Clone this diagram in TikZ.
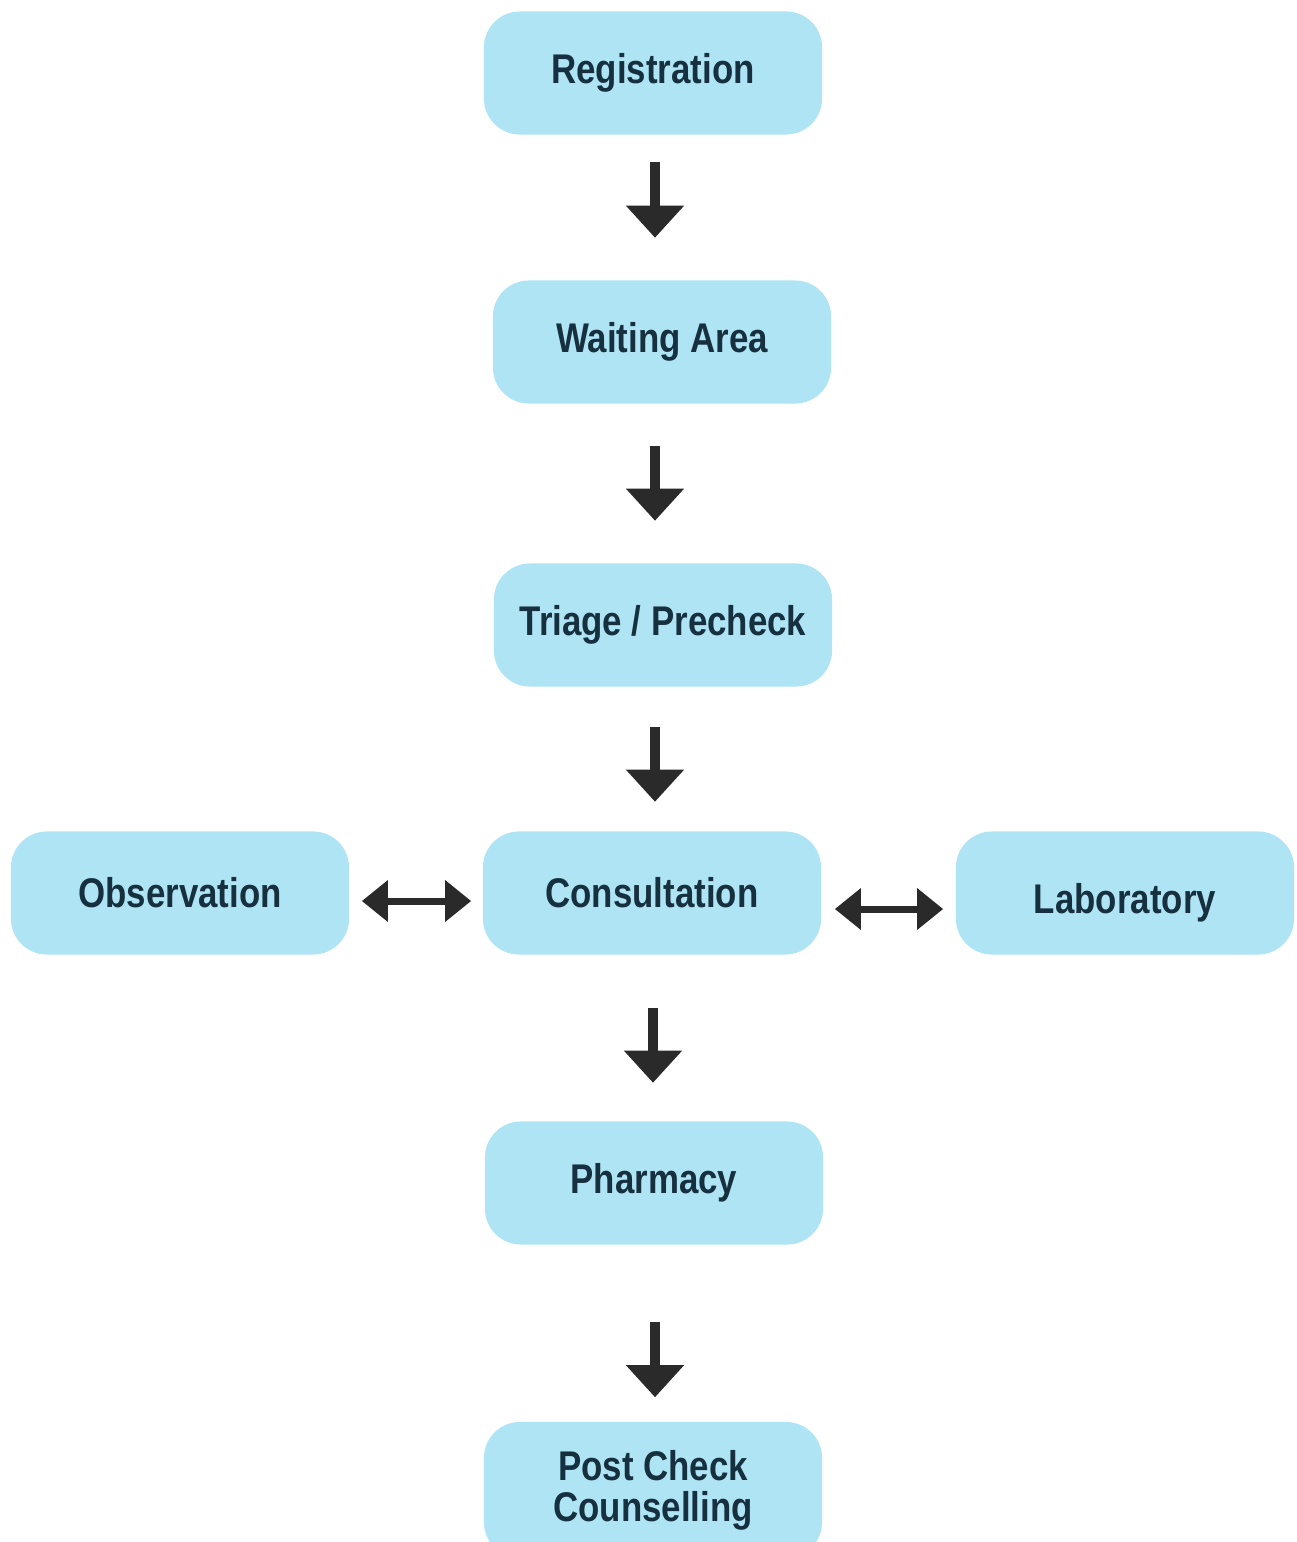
\documentclass[tikz,border=0pt]{standalone}
\usepackage{fontspec}
\setmainfont[FakeStretch=0.84]{Liberation Sans}
\usetikzlibrary{arrows.meta}
\definecolor{boxfill}{HTML}{AEE4F3}
\definecolor{txt}{HTML}{17303F}
\definecolor{arr}{HTML}{2A2A2A}
\begin{document}
\begin{tikzpicture}[x=0.01cm,y=0.01cm,
  stage/.style={draw=none, fill=boxfill, rounded corners=0.36cm,
    minimum width=3.38cm, minimum height=1.23cm, inner sep=0pt,
    text=txt, align=center,
    font=\fontsize{11.8}{11.6}\selectfont\bfseries},
  dnarrow/.style={draw=arr, line width=0.1cm,
    -{Triangle[width=0.56cm,length=0.32cm]}},
  biarrow/.style={draw=arr, line width=0.07cm,
    {Triangle[width=0.4cm,length=0.26cm]}-{Triangle[width=0.4cm,length=0.26cm]}}]
\clip (0,0) rectangle (1296,-1542);
\fill[white] (0,0) rectangle (1296,-1542);

\node[stage] (reg)  at (653,-73)  {Registration};
\node[stage] (wait) at (662,-342) {Waiting Area};
\node[stage] (tri)  at (663,-625) {Triage / Precheck};
\node[stage] (obs)  at (180,-893) {Observation};
\node[stage] (con)  at (652,-893) {Consultation};
\node[stage] (lab)  at (1125,-893) {\raisebox{-0.2cm}[0pt][0pt]{Laboratory}};
\node[stage] (pha)  at (654,-1183) {Pharmacy};
\node[stage, minimum height=1.36cm] (post) at (653,-1490) {Post Check\\Counselling};

\draw[dnarrow, shorten <=0.27cm, shorten >=0.42cm] ([xshift=0.02cm]reg.south) -- ([xshift=0.02cm]reg.south |- wait.north);
\draw[dnarrow, shorten <=0.42cm, shorten >=0.42cm] ([xshift=-0.07cm]wait.south) -- ([xshift=-0.07cm]wait.south |- tri.north);
\draw[dnarrow, shorten <=0.40cm, shorten >=0.29cm] ([xshift=-0.08cm]tri.south) -- ([xshift=-0.08cm]tri.south |- con.north);
\draw[dnarrow, shorten <=0.53cm, shorten >=0.38cm] ([xshift=0.01cm]con.south) -- ([xshift=0.01cm]con.south |- pha.north);
\draw[dnarrow, shorten <=0.77cm, shorten >=0.24cm] ([xshift=0.01cm]pha.south) -- ([xshift=0.01cm]pha.south |- post.north);

\draw[biarrow, shorten <=0.12cm, shorten >=0.11cm] ([yshift=-0.08cm]obs.east) -- ([yshift=-0.08cm]obs.east -| con.west);
\draw[biarrow, shorten <=0.13cm, shorten >=0.12cm] ([yshift=-0.16cm]con.east) -- ([yshift=-0.16cm]con.east -| lab.west);
\end{tikzpicture}
\end{document}
